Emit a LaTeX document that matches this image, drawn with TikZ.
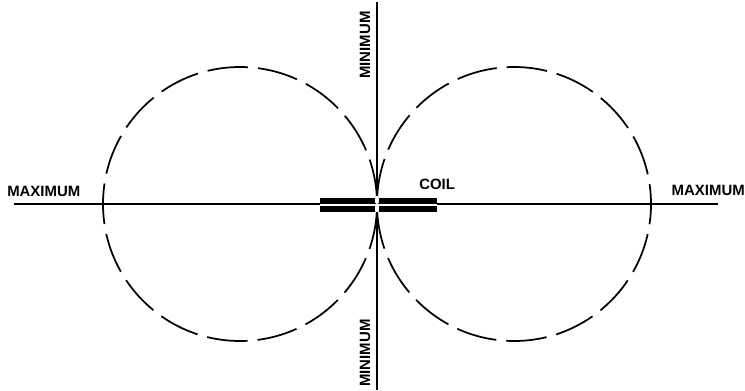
\documentclass[tikz,border=0pt]{standalone}
\usepackage{fontspec}
\setmainfont{Liberation Sans}
\usetikzlibrary{positioning}

\begin{document}
\begin{tikzpicture}[x=0.75pt, y=-0.75pt,
   axis/.style={line width=0.8pt},
   lobe/.style={line width=1.3pt, dash pattern=on 30.5pt off 7.5pt},
   lbl/.style={font=\bfseries\fontsize{11.2}{13}\selectfont, inner sep=0pt},
   coilbar/.style={fill=black, draw=none, inner sep=0pt, minimum height=10.5pt}]
   \useasboundingbox (0,0) rectangle (745,390);

   % axes
   \coordinate (o) at (377,204);
   \coordinate (w) at (14,204);
   \coordinate (e) at (718,204);
   \coordinate (n) at (377,2);
   \coordinate (s) at (377,390);
   \draw[axis] (w) -- (e);
   \draw[axis] (n) -- (s);

   % the two lobes (gap at the coil, dash across the far ends)
   \coordinate (cl) at (240,204);
   \coordinate (cr) at (514,204);
   \draw[lobe, dash phase=34.25pt] (cl) circle[radius=137];
   \draw[lobe, dash phase=15.25pt] (cr) circle[radius=137];

   % coil
   \node[coilbar, minimum width=41.25pt] (coil_l) at (347.5,205) {};
   \node[coilbar, minimum width=43.5pt] (coil_r) at (408,205) {};
   \draw[white, line width=1.1pt] (coil_l.west) -- (coil_r.east);
   \draw[white, line width=1.1pt] ([yshift=6pt]o) -- ([yshift=-6pt]o);

   % labels
   \node[lbl, anchor=south west] (max_l) at (7,197) {MAXIMUM};
   \node[lbl, anchor=south east] (max_r) at (745,196) {MAXIMUM};
   \node[lbl, rotate=90] (min_t) at (365,45) {MINIMUM};
   \node[lbl, rotate=90] (min_b) at (365,353) {MINIMUM};
   \node[lbl, anchor=south west] (coil) at (419,190) {COIL};
\end{tikzpicture}
\end{document}
